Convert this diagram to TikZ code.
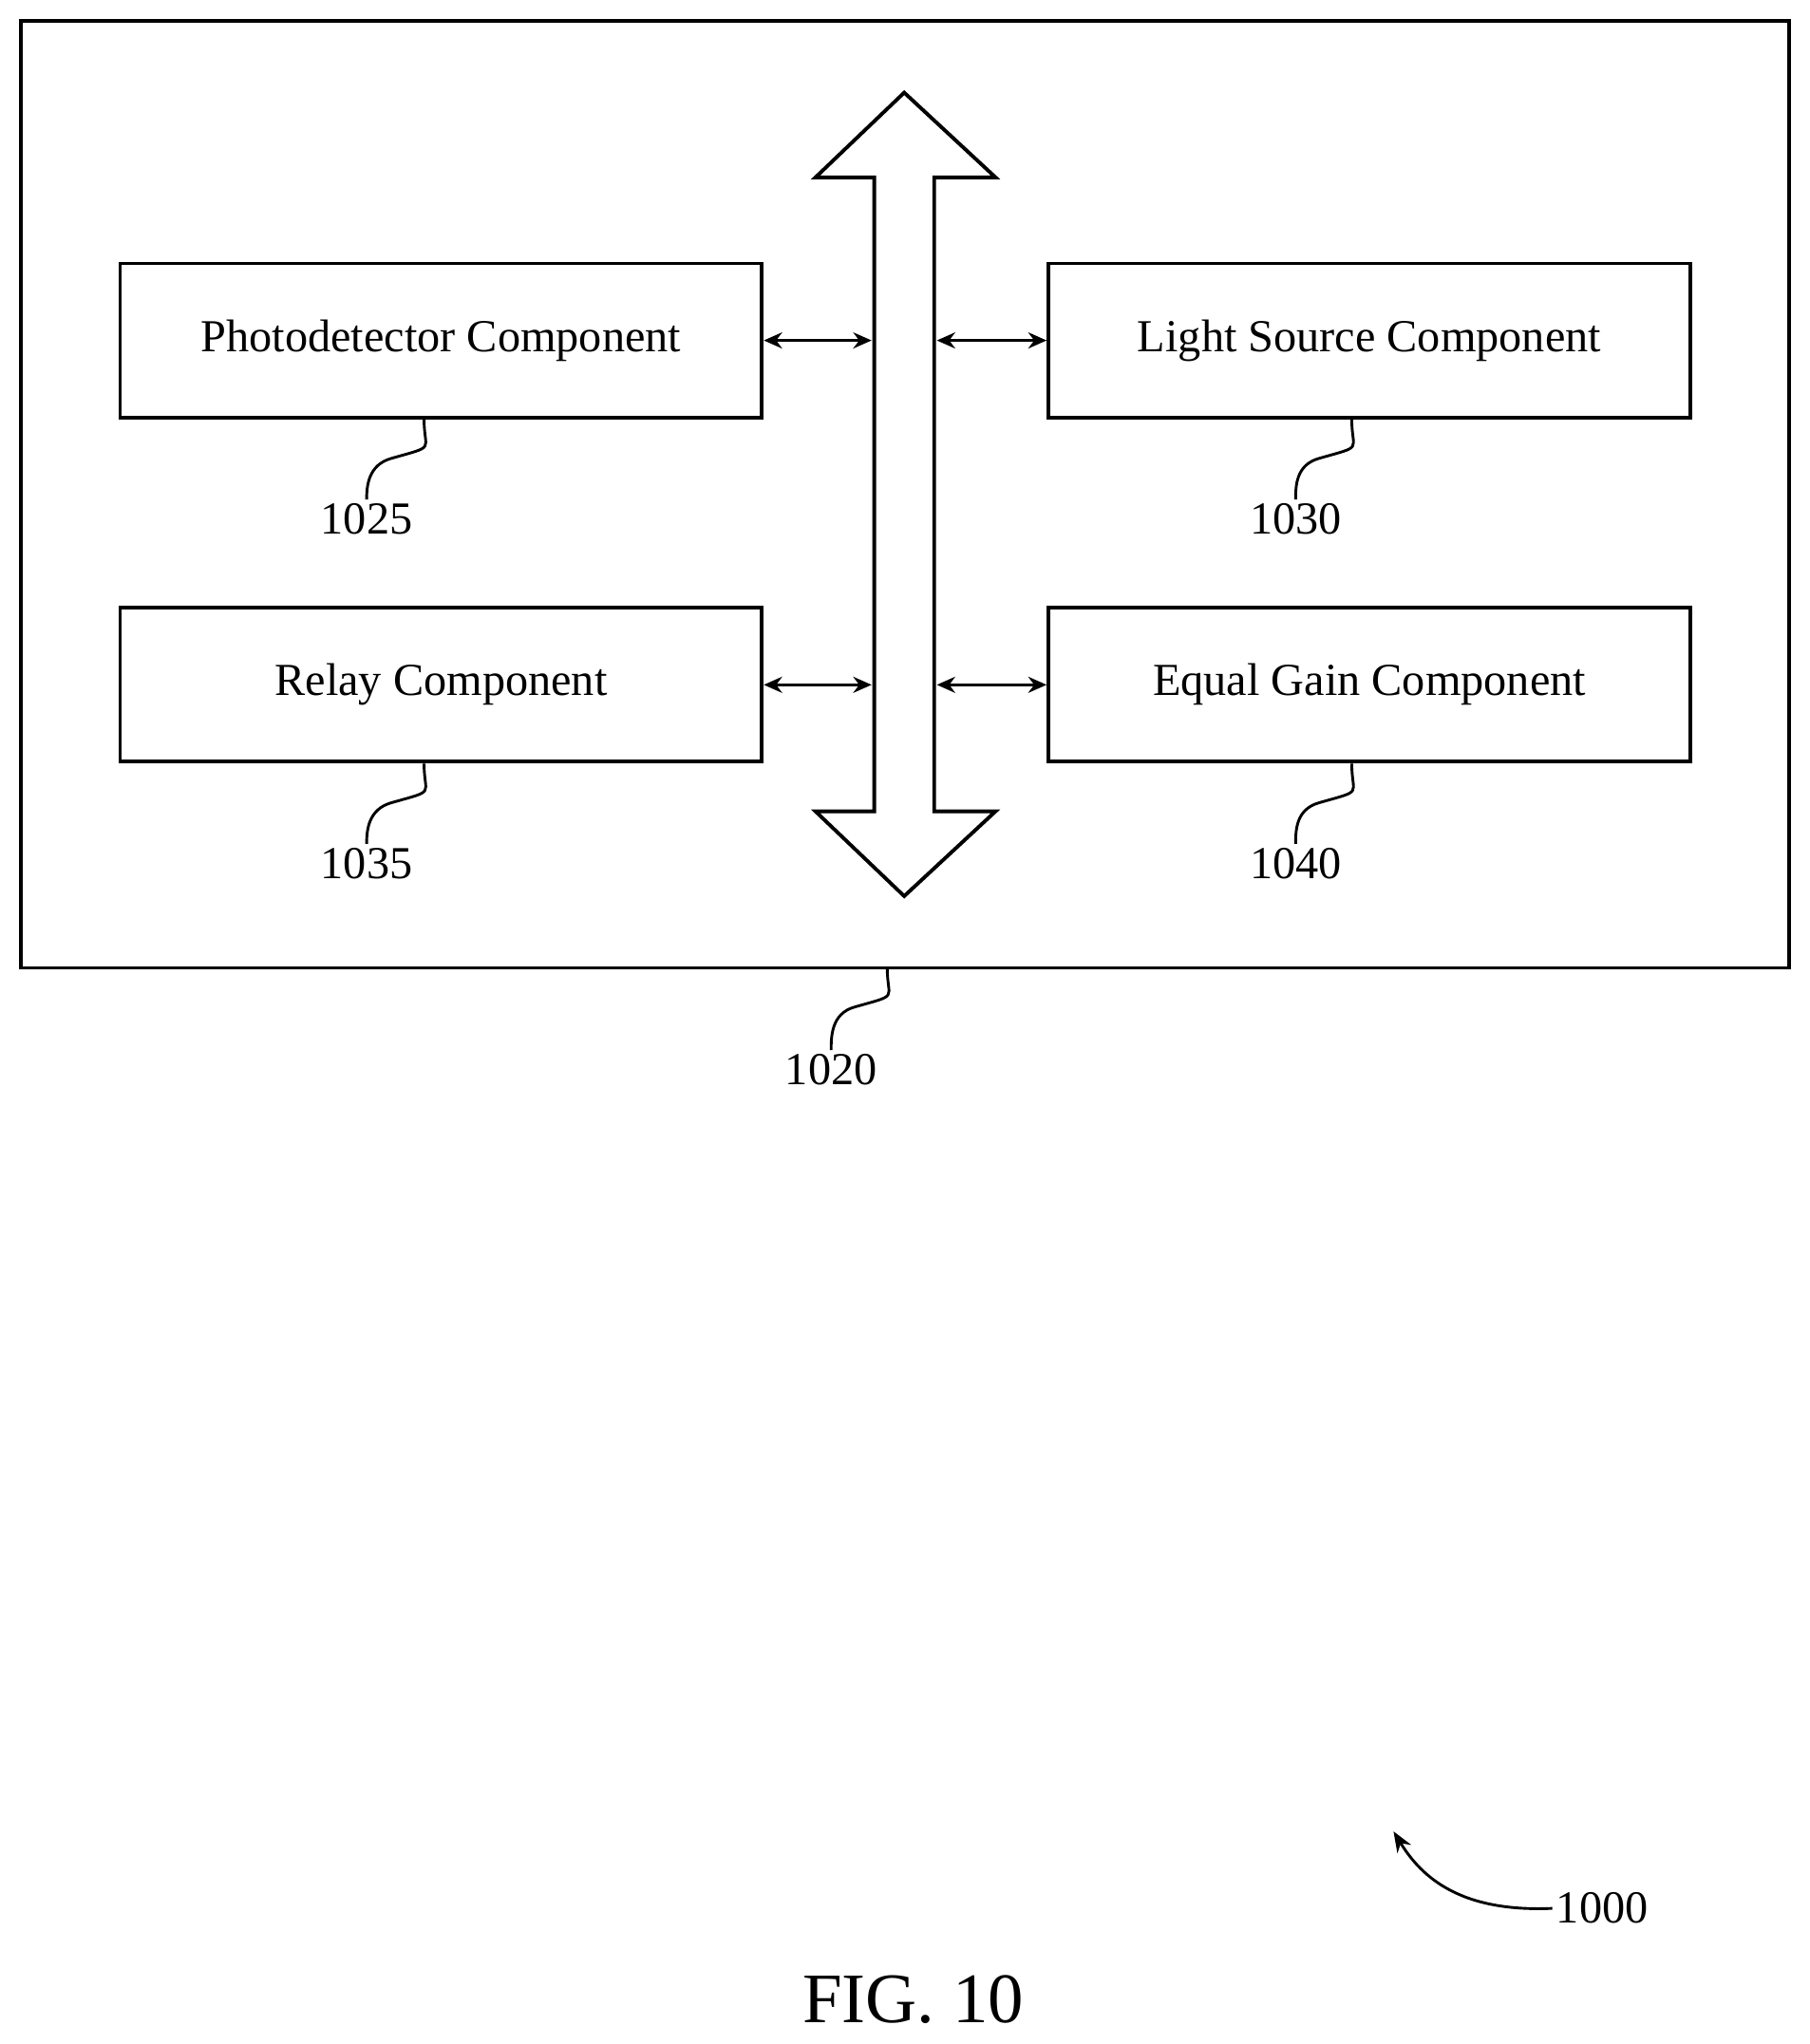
\documentclass[tikz,border=0pt]{standalone}
\usepackage{fontspec}
\setmainfont{Liberation Serif}
\usetikzlibrary{arrows.meta}
\begin{document}
\begin{tikzpicture}[x=0.02cm,y=-0.02cm,line width=1.6pt,
 box/.style={draw,minimum width=9.84cm,minimum height=2.36cm,inner sep=0pt,font=\fontsize{20}{24}\selectfont},
 lbl/.style={font=\fontsize{20}{24}\selectfont,inner sep=1pt},
 sq/.style={line width=1.2pt},
 dbl/.style={{Stealth[length=8pt,width=7pt]}-{Stealth[length=8pt,width=7pt]},line width=1.3pt}]
\useasboundingbox (0,0) rectangle (1387,1567);
\draw (16,16) rectangle (1371,742);
\node[box] (pd) at (338,261) {Photodetector Component};
\node[box] (ls) at (1049.5,261) {Light Source Component};
\node[box] (rc) at (338,525) {Relay Component};
\node[box] (eg) at (1049.5,525) {Equal Gain Component};
\draw[line join=miter] (670,136) -- (625,136) -- (693,71) -- (763,136) -- (716,136) -- (716,622) -- (763,622) -- (693,687) -- (625,622) -- (670,622) -- cycle;
\coordinate (bl1) at (668,261); \coordinate (br1) at (718,261);
\coordinate (bl2) at (668,525); \coordinate (br2) at (718,525);
\draw[dbl] (pd.east) -- (bl1);
\draw[dbl] (br1) -- (ls.west);
\draw[dbl] (rc.east) -- (bl2);
\draw[dbl] (br2) -- (eg.west);
\node[lbl] (n1025) at (281,398) {1025};
\node[lbl] (n1030) at (993,398) {1030};
\node[lbl] (n1035) at (281,662) {1035};
\node[lbl] (n1040) at (993,662) {1040};
\node[lbl] (n1020) at (637,820) {1020};
\coordinate (o) at (680,742);
\foreach \b/\n/\x in {pd/n1025/325,ls/n1030/1036,rc/n1035/325,eg/n1040/1036}{
 \draw[sq] (\b.south -| \x,0) .. controls ++(0,25) and ++(35,-10) .. ++(-25,30) .. controls ++(-18,5) and ++(0,-10) .. (\n.north);
}
\draw[sq] (o) .. controls ++(0,25) and ++(35,-10) .. ++(-25,30) .. controls ++(-18,5) and ++(0,-10) .. (n1020.north);
\node[lbl] (n1000) at (1228,1463) {1000};
\coordinate (a0) at (1068,1404);
\draw[sq,-{Stealth[length=9pt,width=7pt]}] (n1000.west) .. controls (1120,1466) and (1090,1440) .. (a0);
\node[font=\fontsize{31}{36}\selectfont] (fig) at (700,1533) {FIG. 10};
\end{tikzpicture}
\end{document}
